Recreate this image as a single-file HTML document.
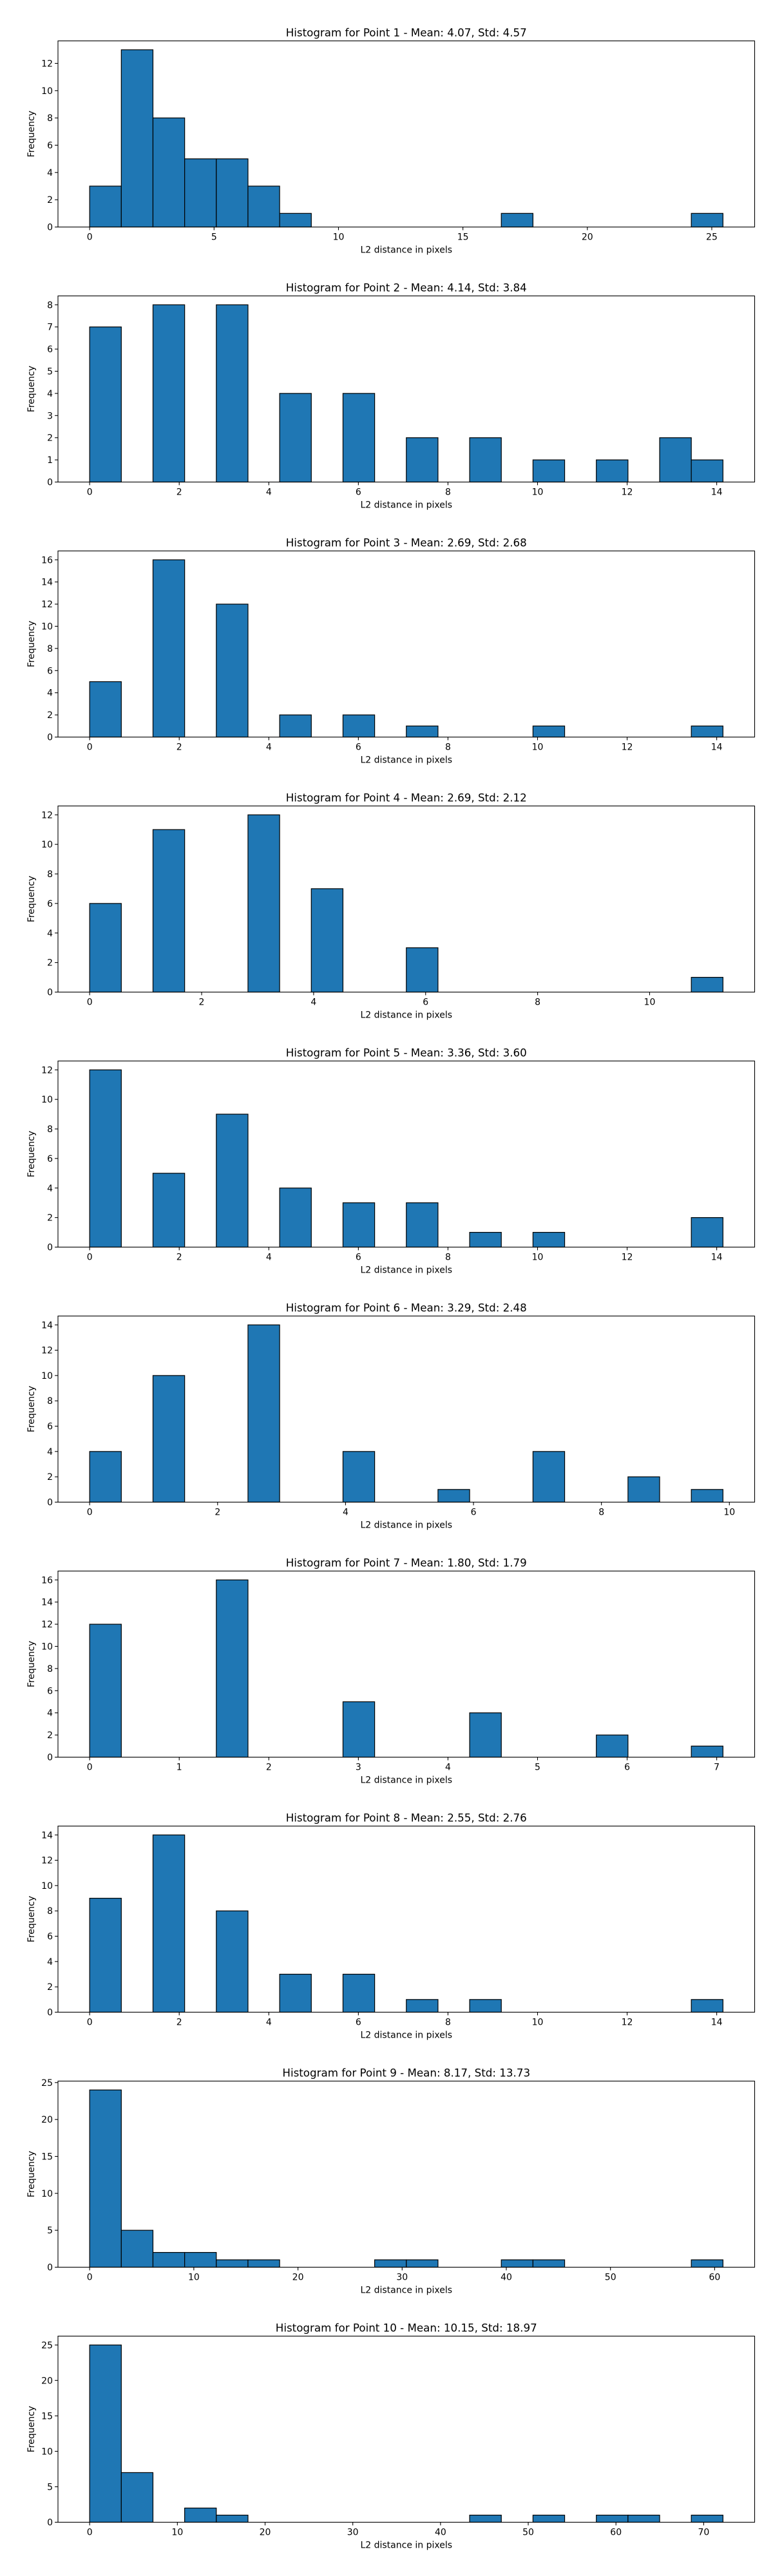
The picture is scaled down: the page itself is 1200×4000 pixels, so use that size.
<!DOCTYPE html>
<html><head><meta charset="utf-8">
<style>
html,body{margin:0;padding:0;background:#fff;}
svg{display:block;}
text{font-family:"DejaVu Sans","Liberation Sans",sans-serif;fill:#000;}
</style></head>
<body>
<svg id="fig" width="1200" height="4000" viewBox="0 0 1200 4000" xmlns="http://www.w3.org/2000/svg"></svg>
<script>
// Data per panel
const titles = [
  "Histogram for Point 1 - Mean: 4.07, Std: 4.57",
  "Histogram for Point 2 - Mean: 4.14, Std: 3.84",
  "Histogram for Point 3 - Mean: 2.69, Std: 2.68",
  "Histogram for Point 4 - Mean: 2.69, Std: 2.12",
  "Histogram for Point 5 - Mean: 3.36, Std: 3.60",
  "Histogram for Point 6 - Mean: 3.29, Std: 2.48",
  "Histogram for Point 7 - Mean: 1.80, Std: 1.79",
  "Histogram for Point 8 - Mean: 2.55, Std: 2.76",
  "Histogram for Point 9 - Mean: 8.17, Std: 13.73",
  "Histogram for Point 10 - Mean: 10.15, Std: 18.97"
];
const binMins = [0,0,0,0,0,0,0,0,0,0];
const binMaxs = [25.45,14.14,14.14,11.31,14.14,9.90,7.07,14.14,60.8,72.2];
const counts = [
  [3,13,8,5,5,3,1,0,0,0,0,0,0,1,0,0,0,0,0,1],
  [7,0,8,0,8,0,4,0,4,0,2,0,2,0,1,0,1,0,2,1],
  [5,0,16,0,12,0,2,0,2,0,1,0,0,0,1,0,0,0,0,1],
  [6,0,11,0,0,12,0,7,0,0,3,0,0,0,0,0,0,0,0,1],
  [12,0,5,0,9,0,4,0,3,0,3,0,1,0,1,0,0,0,0,2],
  [4,0,10,0,0,14,0,0,4,0,0,1,0,0,4,0,0,2,0,1],
  [12,0,0,0,16,0,0,0,5,0,0,0,4,0,0,0,2,0,0,1],
  [9,0,14,0,8,0,3,0,3,0,1,0,1,0,0,0,0,0,0,1],
  [24,5,2,2,1,1,0,0,0,1,1,0,0,1,1,0,0,0,0,1],
  [25,7,0,2,1,0,0,0,0,0,0,0,1,0,1,0,1,1,0,1]
];
const xTickSteps = [5,2,2,2,2,2,1,2,10,10];
const yTickSteps = [2,1,2,2,2,2,2,2,5,5];

const NS = "http://www.w3.org/2000/svg";
const svg = document.getElementById('fig');
function mk(tag, attrs, parent){
  const e = document.createElementNS(NS, tag);
  for (const k in attrs) e.setAttribute(k, attrs[k]);
  (parent||svg).appendChild(e);
  return e;
}
const AX_L = 90, AX_R = 1171.5, AX_H = 289, TOP0 = 63.5, GAP = 396;

titles.forEach((title, i) => {
  const g = mk('g', {});
  
  
  const top = TOP0 + GAP*i, bot = top + AX_H;
  const xmin = binMins[i], xmax = binMaxs[i], r = xmax - xmin;
  const x0 = xmin - 0.05*r, x1 = xmax + 0.05*r;
  const xs = v => AX_L + (v - x0)/(x1 - x0)*(AX_R - AX_L);
  const c = counts[i];
  const ymaxC = Math.max(...c) * 1.05;
  const ys = v => bot - v/ymaxC*AX_H;
  const bw = r / c.length;

  // bars
  c.forEach((n, b) => {
    const xa = xs(xmin + b*bw), xb = xs(xmin + (b+1)*bw);
    const rect = mk('rect', {x:xa, y:ys(n), width:xb-xa, height:bot-ys(n), fill:'#1f77b4', stroke:'#000', 'stroke-width':1.2}, g);
    
    
  });

  // frame
  const fr = mk('rect', {x:AX_L, y:top, width:AX_R-AX_L, height:AX_H, fill:'none', stroke:'#000', 'stroke-width':1.1}, g);
  
  

  // x ticks
  const xs_ = xTickSteps[i];
  for (let t = 0; t <= x1 + 1e-9; t += xs_) {
    const x = xs(t);
    mk('line', {x1:x, x2:x, y1:bot, y2:bot+4.9, stroke:'#000', 'stroke-width':1.1}, g);
    const tl = mk('text', {x:x, y:bot+20, 'font-size':14, 'text-anchor':'middle'}, g);
    tl.textContent = String(t);
    
    
  }
  // y ticks
  const ys_ = yTickSteps[i];
  for (let t = 0; t <= ymaxC + 1e-9; t += ys_) {
    const y = ys(t);
    mk('line', {x1:AX_L-4.9, x2:AX_L, y1:y, y2:y, stroke:'#000', 'stroke-width':1.1}, g);
    const tl = mk('text', {x:AX_L-8, y:y+5, 'font-size':14, 'text-anchor':'end'}, g);
    tl.textContent = String(t);
    
    
  }
  // title
  const tt = mk('text', {x:(AX_L+AX_R)/2, y:top-7, 'font-size':16.7, 'text-anchor':'middle'}, g);
  tt.textContent = title;
  
  
  // x label
  const xl = mk('text', {x:(AX_L+AX_R)/2, y:bot+40, 'font-size':14, 'text-anchor':'middle'}, g);
  xl.textContent = 'L2 distance in pixels';
  
  
  // y label
  const cy = top + AX_H/2;
  const yl = mk('text', {x:53, y:cy, 'font-size':14, 'text-anchor':'middle', transform:'rotate(-90 53 '+cy+')'}, g);
  yl.textContent = 'Frequency';
  
  
});
</script>
</body></html>
